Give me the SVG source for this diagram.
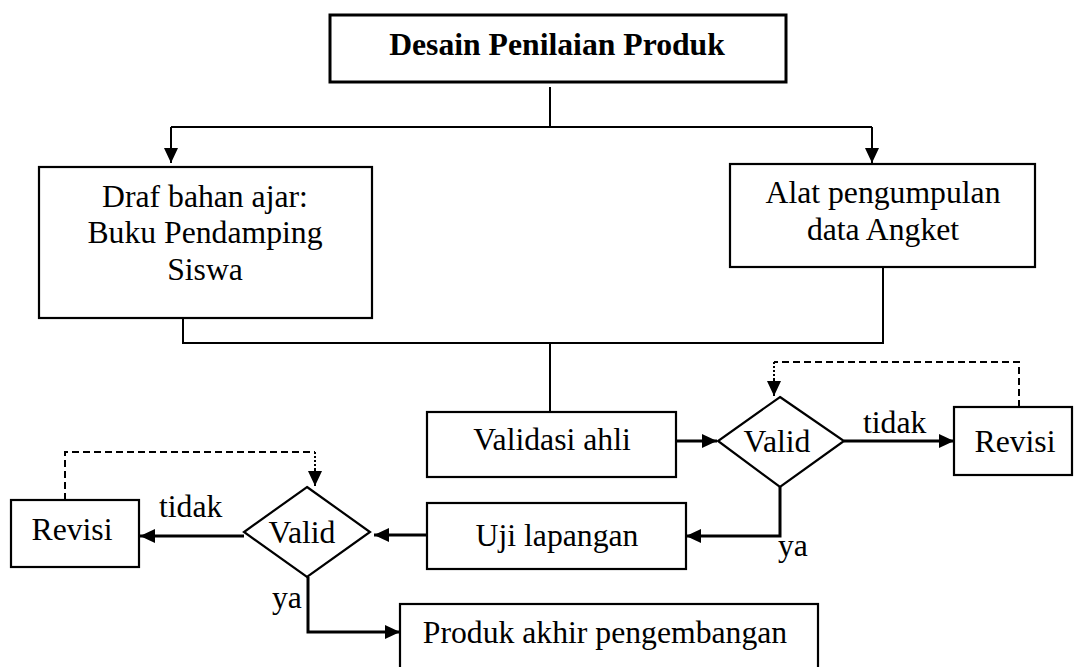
<svg xmlns="http://www.w3.org/2000/svg" width="1076" height="667" viewBox="0 0 1076 667">
<style>
.box{fill:#fff;stroke:#000;stroke-width:2.2}
text{font-family:'Liberation Serif','Times New Roman',serif;font-size:31.7px;fill:#000}
.b{font-weight:bold}
.ln{fill:none;stroke:#000;stroke-width:2}
.ar{fill:none;stroke:#000;stroke-width:3}
.da{fill:none;stroke:#000;stroke-width:2;stroke-dasharray:7,4}
.do{fill:none;stroke:#000;stroke-width:2;stroke-dasharray:2,2}
</style>
<defs>
<marker id="ah" markerUnits="userSpaceOnUse" markerWidth="16" markerHeight="16" refX="15" refY="7" orient="auto">
<path d="M0,0 L15,7 L0,14 Z" fill="#000"/>
</marker>
</defs>
<rect width="1076" height="667" fill="#fff"/>
<g id="connectors">
<path class="ln" d="M550,87 V127"/>
<path class="ln" d="M171,127 H872"/>
<path class="ln" d="M171,127 V163" marker-end="url(#ah)"/>
<path class="ln" d="M872,127 V163" marker-end="url(#ah)"/>
<path class="ln" d="M183,305 V343 H883 V268"/>
<path class="ln" d="M550,343 V412"/>
<path class="ar" d="M676,441 H717" marker-end="url(#ah)"/>
<path class="ar" d="M844,441 H954" marker-end="url(#ah)"/>
<path class="da" d="M1019,407 V362 H774"/>
<path class="do" d="M774,362 V383"/>
<path class="ln" d="M774,380 V396" marker-end="url(#ah)"/>
<path class="ar" d="M780,487 V536 H686" marker-end="url(#ah)"/>
<path class="ar" d="M427,535 H374" marker-end="url(#ah)"/>
<path class="ar" d="M244,536 H140" marker-end="url(#ah)"/>
<path class="da" d="M65,500 V452 H315"/>
<path class="do" d="M315,452 V473"/>
<path class="ln" d="M315,470 V486" marker-end="url(#ah)"/>
<path class="ar" d="M308,577 V632 H400" marker-end="url(#ah)"/>
<text x="863" y="433">tidak</text>
<text x="778" y="556">ya</text>
<text x="159" y="517">tidak</text>
<text x="272" y="608">ya</text>
</g>
<g id="desain">
<rect class="box" x="330" y="15" width="456" height="67" style="stroke-width:3"/>
<text class="b" x="557" y="55" text-anchor="middle">Desain Penilaian Produk</text>
</g>
<g id="draf">
<rect class="box" x="39" y="167" width="333" height="151"/>
<text x="205" y="207" text-anchor="middle">Draf bahan ajar:</text>
<text x="205" y="243" text-anchor="middle">Buku Pendamping</text>
<text x="205" y="280" text-anchor="middle">Siswa</text>
</g>
<g id="alat">
<rect class="box" x="730" y="164" width="305" height="103"/>
<text x="883" y="203" text-anchor="middle">Alat pengumpulan</text>
<text x="883" y="240" text-anchor="middle">data Angket</text>
</g>
<g id="validasi">
<rect class="box" x="427" y="412" width="249" height="65"/>
<text x="552" y="450" text-anchor="middle">Validasi ahli</text>
</g>
<g id="valid1">
<path class="box" d="M780,397 L844,441 L780,487 L718,441 Z"/>
<text x="777" y="452" text-anchor="middle">Valid</text>
</g>
<g id="revisi1">
<rect class="box" x="954" y="407" width="118" height="68"/>
<text x="1015" y="452" text-anchor="middle">Revisi</text>
</g>
<g id="uji">
<rect class="box" x="427" y="503" width="259" height="66"/>
<text x="557" y="546" text-anchor="middle">Uji lapangan</text>
</g>
<g id="valid2">
<path class="box" d="M307,487 L370,532 L307,577 L244,532 Z"/>
<text x="302" y="543" text-anchor="middle">Valid</text>
</g>
<g id="revisi2">
<rect class="box" x="11" y="500" width="128" height="67"/>
<text x="72" y="540" text-anchor="middle">Revisi</text>
</g>
<g id="produk">
<rect class="box" x="400" y="604" width="418" height="80"/>
<text x="605" y="643" text-anchor="middle">Produk akhir pengembangan</text>
</g>
</svg>
